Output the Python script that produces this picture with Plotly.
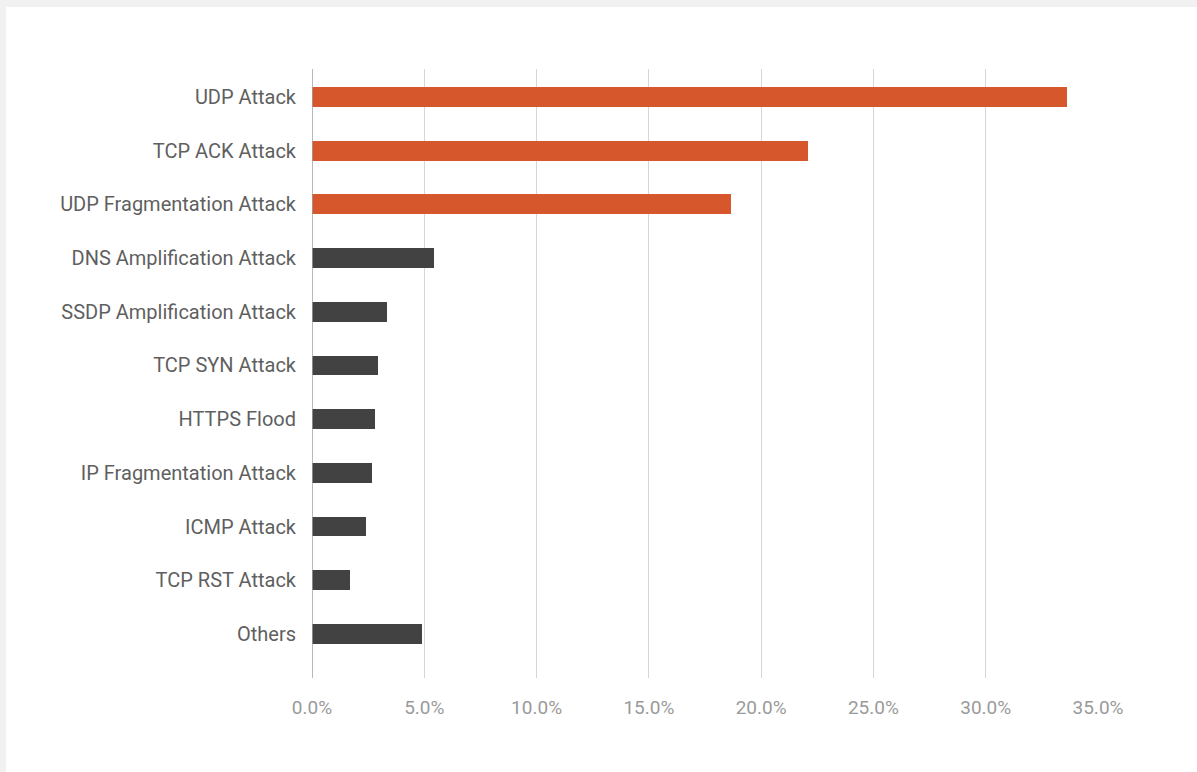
import plotly.graph_objects as go

# Share of DDoS attack vectors (percent)
categories = [
    "UDP Attack",
    "TCP ACK Attack",
    "UDP Fragmentation Attack",
    "DNS Amplification Attack",
    "SSDP Amplification Attack",
    "TCP SYN Attack",
    "HTTPS Flood",
    "IP Fragmentation Attack",
    "ICMP Attack",
    "TCP RST Attack",
    "Others",
]
shares = [33.6, 22.1, 18.65, 5.42, 3.33, 2.93, 2.79, 2.66, 2.39, 1.68, 4.88]
highlight_top = 3  # the leading vectors are drawn in orange

tick_values = [0, 5, 10, 15, 20, 25, 30, 35]
tick_labels = ["0.0%", "5.0%", "10.0%", "15.0%", "20.0%", "25.0%", "30.0%", "35.0%"]

ORANGE = "#D6572C"
DARK = "#424242"
colors = [ORANGE if i < highlight_top else DARK for i in range(len(categories))]

W, H = 1197, 772
ML, MR, MT, MB = 312, 99, 69, 94

fig = go.Figure(
    go.Bar(
        x=shares,
        y=categories,
        orientation="h",
        marker=dict(color=colors, line=dict(width=0)),
        width=0.37,
        hoverinfo="x+y",
    )
)

# light grey page with a white card inset from the top-left corner
plot_w = W - ML - MR
plot_h = H - MT - MB
fig.add_shape(
    type="rect",
    xref="paper",
    yref="paper",
    x0=(6 - ML) / plot_w,
    x1=(W + 20 - ML) / plot_w,
    y0=-(MB + 20) / plot_h,
    y1=(H - MB - 7) / plot_h,
    fillcolor="white",
    line=dict(width=0),
    layer="below",
)

fig.update_layout(
    width=W,
    height=H,
    margin=dict(l=ML, r=MR, t=MT, b=MB),
    paper_bgcolor="#F1F1F1",
    plot_bgcolor="rgba(0,0,0,0)",
    font=dict(family="Roboto, Arial, sans-serif", size=20, color="#5F5F5F"),
    showlegend=False,
    bargap=0,
)

fig.update_xaxes(
    range=[0, 35],
    tickvals=tick_values,
    ticktext=tick_labels,
    showgrid=True,
    gridcolor="#D6D6D6",
    gridwidth=1,
    zeroline=False,
    showline=False,
    ticks="",
    tickfont=dict(size=19, color="#9A9A9A"),
    ticklabelstandoff=16,
    fixedrange=True,
)

fig.update_yaxes(
    categoryorder="array",
    categoryarray=categories,
    range=[10.82, -0.52],
    showgrid=False,
    zeroline=False,
    showline=False,
    ticks="",
    tickfont=dict(size=20, color="#5F5F5F"),
    ticklabelstandoff=15,
    fixedrange=True,
)

# baseline at 0%
fig.add_shape(
    type="line",
    xref="x",
    yref="paper",
    x0=0,
    x1=0,
    y0=0,
    y1=1,
    line=dict(color="#A0A0A0", width=1.5),
)

fig.write_html("out.html")
